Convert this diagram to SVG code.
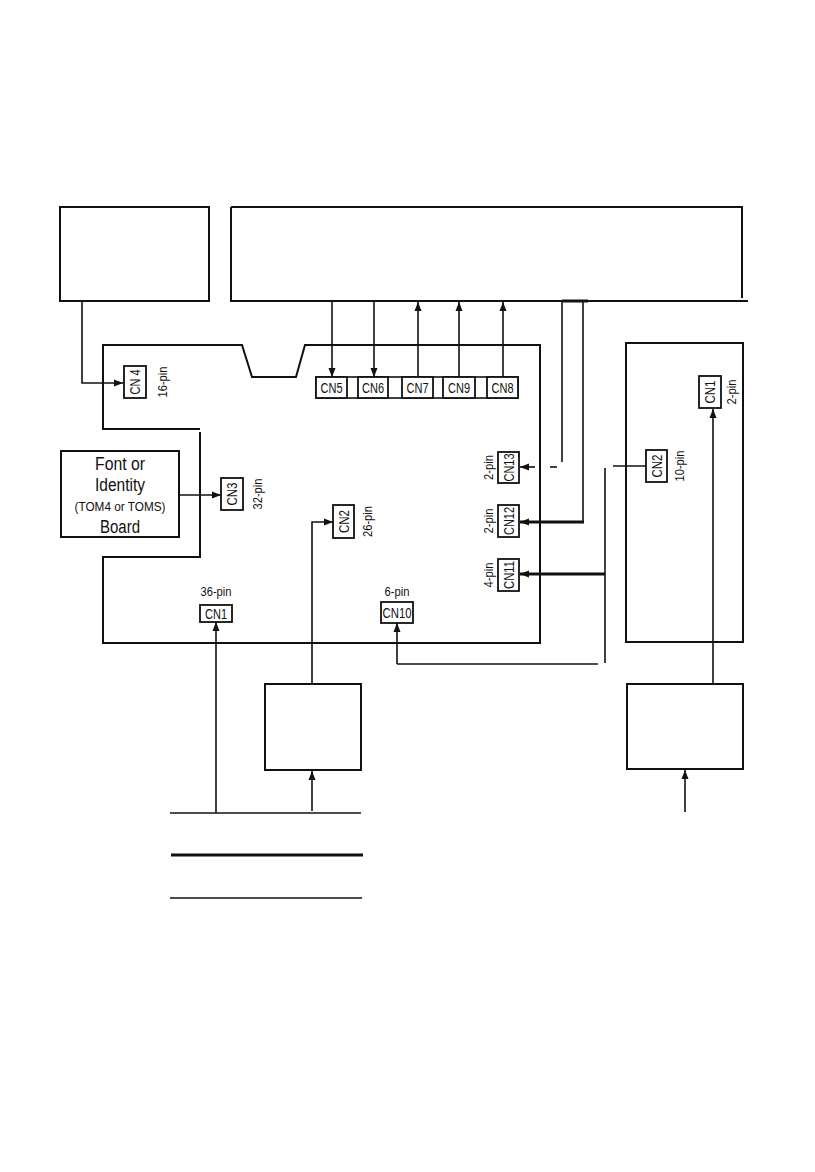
<svg xmlns="http://www.w3.org/2000/svg" width="815" height="1172" viewBox="0 0 815 1172">
<style>
  .ln{fill:none;stroke:#111;stroke-width:1.6}
  .thk{fill:none;stroke:#111;stroke-width:3}
  .box{fill:none;stroke:#111;stroke-width:2}
  .cn{fill:#fff;stroke:#111;stroke-width:1.8}
  .t{font-family:"Liberation Sans",Arial,sans-serif;fill:#111}
  .lbl{font-size:13px;text-anchor:middle;dominant-baseline:central}
  .cnl{font-size:14.5px}
  .big{font-size:18px;text-anchor:middle}
</style>
<defs>
  <marker id="ah" markerUnits="userSpaceOnUse" markerWidth="10" markerHeight="8" refX="9" refY="4" orient="auto">
    <path d="M0,0.5 L9,4 L0,7.5 Z" fill="#111"/>
  </marker>
</defs>
<rect width="815" height="1172" fill="#fff"/>

<g id="top-left-box"><rect class="box" x="60" y="207" width="149" height="94"/></g>
<g id="top-right-box"><path class="box" d="M231,207 H742 V298 M231,207 V301 H748"/></g>
<g id="main-board"><path class="box" d="M200,432 V557 H103 V643 H540 V345 H305 L296,377 H252 L242,345 H103 V429 H200"/></g>
<g id="right-board"><rect class="box" x="626" y="343" width="117" height="299"/></g>
<g id="bottom-mid-box"><rect class="box" x="265" y="684" width="96" height="86"/></g>
<g id="bottom-right-box"><rect class="box" x="627" y="684" width="116" height="85"/></g>

<g id="font-board">
  <rect class="box" x="61" y="451" width="118" height="86"/>
  <text class="t big" x="120" y="470" textLength="50" lengthAdjust="spacingAndGlyphs">Font or</text>
  <text class="t big" x="120" y="491" textLength="50" lengthAdjust="spacingAndGlyphs">Identity</text>
  <text class="t" x="120" y="511" font-size="13" text-anchor="middle" textLength="91" lengthAdjust="spacingAndGlyphs">(TOM4 or TOMS)</text>
  <text class="t big" x="120" y="533" textLength="40" lengthAdjust="spacingAndGlyphs">Board</text>
</g>

<g id="connectors">
  <path class="ln" d="M82,302 V383 H123" marker-end="url(#ah)"/>
  <path class="ln" d="M179,495 H221" marker-end="url(#ah)"/>
  <path class="ln" d="M332,301 V377" marker-end="url(#ah)"/>
  <path class="ln" d="M374,301 V377" marker-end="url(#ah)"/>
  <path class="ln" d="M418,377 V302" marker-end="url(#ah)"/>
  <path class="ln" d="M459,377 V302" marker-end="url(#ah)"/>
  <path class="ln" d="M503,377 V302" marker-end="url(#ah)"/>
  <path class="ln" d="M216,813 V622" marker-end="url(#ah)"/>
  <path class="ln" d="M312,684 V522 H333" marker-end="url(#ah)"/>
  <path class="ln" d="M312,811 V771" marker-end="url(#ah)"/>
  <path class="ln" d="M397,664 V623" marker-end="url(#ah)"/>
  <path class="ln" d="M397,664 H598"/>
  <path class="ln" d="M605,468 V663"/>
  <path class="thk" d="M605,574 H520" marker-end="url(#ah)"/>
  <path class="ln" d="M583,301 V522"/>
  <path class="thk" d="M584,522 H520" marker-end="url(#ah)"/>
  <path class="ln" d="M562,301 V462"/>
  <path class="ln" d="M550,467 H557"/>
  <path class="ln" d="M535,467 H520" marker-end="url(#ah)"/>
  <path class="thk" d="M562,301 H588"/>
  <path class="ln" d="M613,466 H646"/>
  <path class="ln" d="M713,684 V409" marker-end="url(#ah)"/>
  <path class="ln" d="M685,812 V770" marker-end="url(#ah)"/>
  <path class="ln" d="M170,813 H361"/>
  <path class="thk" d="M171,855 H363"/>
  <path class="ln" d="M170,898 H362"/>
</g>

<g id="cn-strip"><rect class="ln" x="316" y="377" width="202" height="21"/></g>
<g id="CN5"><rect class="cn" x="316" y="377" width="31" height="21"/><text class="t lbl cnl" x="331.5" y="388" textLength="22" lengthAdjust="spacingAndGlyphs">CN5</text></g>
<g id="CN6"><rect class="cn" x="358" y="377" width="30" height="21"/><text class="t lbl cnl" x="373" y="388" textLength="22" lengthAdjust="spacingAndGlyphs">CN6</text></g>
<g id="CN7"><rect class="cn" x="402" y="377" width="31" height="21"/><text class="t lbl cnl" x="417.5" y="388" textLength="22" lengthAdjust="spacingAndGlyphs">CN7</text></g>
<g id="CN9"><rect class="cn" x="443" y="377" width="32" height="21"/><text class="t lbl cnl" x="459" y="388" textLength="22" lengthAdjust="spacingAndGlyphs">CN9</text></g>
<g id="CN8"><rect class="cn" x="487" y="377" width="31" height="21"/><text class="t lbl cnl" x="502.5" y="388" textLength="22" lengthAdjust="spacingAndGlyphs">CN8</text></g>

<g id="CN4"><rect class="cn" x="124" y="366" width="22" height="32"/>
  <text class="t lbl cnl" x="135" y="382" transform="rotate(-90 135 382)" textLength="25" lengthAdjust="spacingAndGlyphs">CN 4</text>
  <text class="t lbl" x="162" y="382" transform="rotate(-90 162 382)" textLength="31" lengthAdjust="spacingAndGlyphs">16-pin</text></g>
<g id="CN3"><rect class="cn" x="221" y="478" width="22" height="32"/>
  <text class="t lbl cnl" x="232" y="494" transform="rotate(-90 232 494)" textLength="23" lengthAdjust="spacingAndGlyphs">CN3</text>
  <text class="t lbl" x="257" y="494" transform="rotate(-90 257 494)" textLength="31" lengthAdjust="spacingAndGlyphs">32-pin</text></g>
<g id="CN1-main"><rect class="cn" x="200" y="605" width="32" height="17"/>
  <text class="t lbl cnl" x="216" y="613.5" textLength="22" lengthAdjust="spacingAndGlyphs">CN1</text>
  <text class="t lbl" x="216" y="591" textLength="31" lengthAdjust="spacingAndGlyphs">36-pin</text></g>
<g id="CN2-main"><rect class="cn" x="333" y="505" width="21" height="33"/>
  <text class="t lbl cnl" x="343.5" y="521.5" transform="rotate(-90 343.5 521.5)" textLength="23" lengthAdjust="spacingAndGlyphs">CN2</text>
  <text class="t lbl" x="367" y="521.5" transform="rotate(-90 367 521.5)" textLength="31" lengthAdjust="spacingAndGlyphs">26-pin</text></g>
<g id="CN10"><rect class="cn" x="381" y="602" width="32" height="21"/>
  <text class="t lbl cnl" x="397" y="612.5" textLength="29" lengthAdjust="spacingAndGlyphs">CN10</text>
  <text class="t lbl" x="397" y="591" textLength="25" lengthAdjust="spacingAndGlyphs">6-pin</text></g>
<g id="CN13"><rect class="cn" x="498" y="452" width="21" height="31"/>
  <text class="t lbl cnl" x="508.5" y="467.5" transform="rotate(-90 508.5 467.5)" textLength="28" lengthAdjust="spacingAndGlyphs">CN13</text>
  <text class="t lbl" x="488" y="467.5" transform="rotate(-90 488 467.5)" textLength="25" lengthAdjust="spacingAndGlyphs">2-pin</text></g>
<g id="CN12"><rect class="cn" x="498" y="505" width="21" height="32"/>
  <text class="t lbl cnl" x="508.5" y="521" transform="rotate(-90 508.5 521)" textLength="28" lengthAdjust="spacingAndGlyphs">CN12</text>
  <text class="t lbl" x="488" y="521" transform="rotate(-90 488 521)" textLength="25" lengthAdjust="spacingAndGlyphs">2-pin</text></g>
<g id="CN11"><rect class="cn" x="498" y="559" width="21" height="32"/>
  <text class="t lbl cnl" x="508.5" y="575" transform="rotate(-90 508.5 575)" textLength="28" lengthAdjust="spacingAndGlyphs">CN11</text>
  <text class="t lbl" x="488" y="575" transform="rotate(-90 488 575)" textLength="25" lengthAdjust="spacingAndGlyphs">4-pin</text></g>
<g id="CN2-right"><rect class="cn" x="646" y="450" width="21" height="32"/>
  <text class="t lbl cnl" x="656.5" y="466" transform="rotate(-90 656.5 466)" textLength="23" lengthAdjust="spacingAndGlyphs">CN2</text>
  <text class="t lbl" x="679" y="466" transform="rotate(-90 679 466)" textLength="31" lengthAdjust="spacingAndGlyphs">10-pin</text></g>
<g id="CN1-right"><rect class="cn" x="699" y="376" width="22" height="32"/>
  <text class="t lbl cnl" x="710" y="392" transform="rotate(-90 710 392)" textLength="23" lengthAdjust="spacingAndGlyphs">CN1</text>
  <text class="t lbl" x="731" y="392" transform="rotate(-90 731 392)" textLength="25" lengthAdjust="spacingAndGlyphs">2-pin</text></g>
</svg>
